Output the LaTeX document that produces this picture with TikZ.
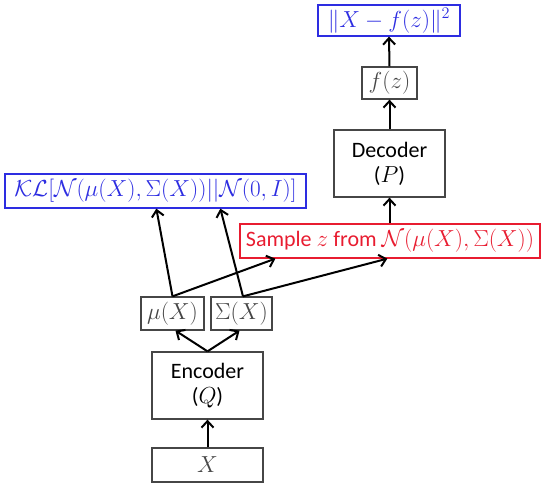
\RequirePackage{fix-cm}
\documentclass[tikz,border=0pt]{standalone}
\usepackage{fontspec}
\setsansfont{Carlito}
\usetikzlibrary{arrows.meta,calc}
\definecolor{vblue}{RGB}{45,45,225}
\definecolor{vred}{RGB}{232,28,48}
\definecolor{vgray}{RGB}{70,70,70}
\newcommand\mfnt{\fontsize{23.2}{26}\selectfont}
\newcommand\sfnt{\fontsize{22}{26}\selectfont\sffamily}
\begin{document}
\begin{tikzpicture}[x=1pt,y=-1pt,
  box/.style={draw=vgray,line width=1.3pt,inner sep=0pt,align=center,font=\mfnt},
  bluebox/.style={box,draw=vblue,text=vblue},
  redbox/.style={box,draw=vred,text=vred},
  arr/.style={line width=2pt,-{Straight Barb[length=6.5pt,width=12pt,line width=2pt]}}]
\useasboundingbox (0,0) rectangle (549,492);
\node[bluebox,minimum width=142pt,minimum height=31pt] (loss) at (389,20.5) {$\|X-f(z)\|^2$};
\node[box,minimum width=55pt,minimum height=32pt,text=vgray] (fz) at (389.5,83) {$f(z)$};
\node[box,minimum width=111pt,minimum height=67pt] (dec) at (389.5,163.5) {\sfnt Decoder\\[-1pt]\sfnt(\mfnt$P$\sfnt)};
\node[redbox,minimum width=300pt,minimum height=34pt] (samp) at (390,241) {\sfnt Sample \mfnt$z$ \sfnt from \mfnt$\mathcal{N}(\mu(X),\Sigma(X))$};
\node[bluebox,minimum width=301pt,minimum height=34pt] (kl) at (155.5,191) {$\mathcal{KL}[\mathcal{N}(\mu(X),\Sigma(X))||\mathcal{N}(0,I)]$};
\node[box,minimum width=63pt,minimum height=33pt,text=vgray] (mu) at (172.5,313.5) {$\mu(X)$};
\node[box,minimum width=61pt,minimum height=33pt,text=vgray] (sig) at (241.5,313.5) {$\Sigma(X)$};
\node[box,minimum width=111pt,minimum height=67pt] (enc) at (207.5,385.5) {\sfnt Encoder\\[-1pt]\sfnt(\mfnt$Q$\sfnt)};
\node[box,minimum width=111pt,minimum height=34pt,text=vgray] (x) at (207.5,465) {$X$};
\draw[arr] (x.north) -- (enc.south);
\draw[arr] (enc.north) -- ($(mu.south)+(3,0)$);
\draw[arr] (enc.north) -- ($(sig.south)+(-2,0)$);
\draw[arr] (mu.north) -- ($(kl.south west)+(152,0)$);
\draw[arr] ($(sig.north)+(1.5,0)$) -- ($(kl.south west)+(216,0)$);
\draw[arr] (mu.north) -- ($(samp.south west)+(36,0)$);
\draw[arr] ($(sig.north)+(1.5,0)$) -- ($(samp.south west)+(148,0)$);
\draw[arr] (samp.north -| dec.south) -- (dec.south);
\draw[arr] (dec.north) -- (fz.south);
\draw[arr] (fz.north) -- (loss.south);
\end{tikzpicture}
\end{document}
